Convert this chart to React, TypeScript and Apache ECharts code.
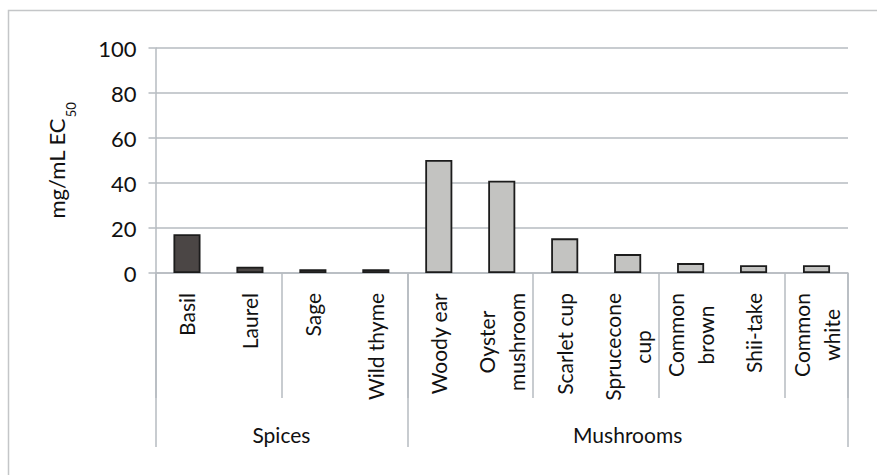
import React, { useEffect, useRef } from "react";
import * as echarts from "echarts";

const categories = [
  "Basil",
  "Laurel",
  "Sage",
  "Wild thyme",
  "Woody ear",
  "Oyster\nmushroom",
  "Scarlet cup",
  "Sprucecone\ncup",
  "Common\nbrown",
  "Shii-take",
  "Common\nwhite",
];
const values = [17.2, 2.8, 1.7, 1.7, 50.2, 41.0, 15.4, 8.4, 4.4, 3.5, 3.5];
const groups = ["Spices", "Mushrooms"];
const groupSizes = [4, 7];
const groupColors = ["#4b4645", "#c3c3c1"];
const yTicks = [0, 20, 40, 60, 80, 100];

const FONT = "Lato";
const GRAY = "#b6bbc0";
const CAT_SIZE = 21;
const LINE_GAP = 30;
const LABEL_MARGIN = 20;

export default function App() {
  const ref = useRef<HTMLDivElement>(null);
  useEffect(() => {
    if (!ref.current) return;
    const chart = echarts.init(ref.current, undefined, { renderer: "svg" });

    const canvas = document.createElement("canvas");
    const ctx = canvas.getContext("2d");
    const measure = (t: string) => {
      if (!ctx) return t.length * CAT_SIZE * 0.5;
      ctx.font = `${CAT_SIZE}px ${FONT}`;
      return ctx.measureText(t).width;
    };

    // group boundaries and centers
    const bounds: number[] = [0];
    groupSizes.forEach((s) => bounds.push(bounds[bounds.length - 1] + s));
    const centers = groupSizes.map((s, i) => bounds[i] + s / 2);
    const groupOf = (idx: number) => {
      for (let g = 0; g < groupSizes.length; g++) {
        if (idx < bounds[g + 1]) return g;
      }
      return groupSizes.length - 1;
    };

    const border = {
      type: "rect",
      shape: { x: 8.5, y: 10.5, width: 1000, height: 1000 },
      style: { fill: "none", stroke: "#c4c6c8", lineWidth: 1.5 },
      silent: true,
      z: -1,
    };

    chart.setOption({
      animation: false,
      backgroundColor: "#ffffff",
      graphic: [border],
      grid: {
        left: 155.5,
        right: 29,
        top: 48,
        bottom: 202,
        containLabel: false,
        outerBoundsMode: "none",
      },
      xAxis: [
        {
          type: "category",
          data: categories,
          boundaryGap: true,
          axisLine: { show: true, lineStyle: { color: GRAY, width: 1.5 } },
          axisTick: {
            show: true,
            length: 125,
            lineStyle: { color: GRAY, width: 1.5 },
          },
          axisLabel: { show: false },
        },
        {
          type: "value",
          position: "bottom",
          min: 0,
          max: categories.length,
          axisLine: { show: false },
          splitLine: { show: false },
          axisTick: {
            show: true,
            customValues: bounds,
            length: 174,
            lineStyle: { color: GRAY, width: 1.5 },
          },
          axisLabel: {
            show: true,
            customValues: centers,
            margin: 151,
            fontSize: 21,
            fontFamily: FONT,
            color: "#111",
            formatter: (v: number) => {
              const i = centers.findIndex((c) => Math.abs(c - v) < 1e-6);
              return i >= 0 ? groups[i] : "";
            },
          },
        },
      ],
      yAxis: {
        type: "value",
        min: yTicks[0],
        max: yTicks[yTicks.length - 1],
        interval: yTicks[1] - yTicks[0],
        name: "{a|mg/mL EC}{s|50}",
        nameLocation: "middle",
        nameGap: 88,
        nameRotate: 90,
        nameTextStyle: {
          rich: {
            a: { fontSize: 22, fontFamily: FONT, color: "#111", verticalAlign: "middle", lineHeight: 22 },
            s: {
              fontSize: 13,
              fontFamily: FONT,
              color: "#111",
              verticalAlign: "top",
              lineHeight: 13,
              padding: [19, 0, 0, 1],
            },
          },
        },
        axisLine: { show: true, lineStyle: { color: GRAY, width: 1.5 } },
        axisTick: { show: true, length: 7, lineStyle: { color: GRAY, width: 1.5 } },
        splitLine: { show: true, lineStyle: { color: GRAY, width: 1.5 } },
        axisLabel: {
          margin: 19,
          fontSize: 22,
          fontFamily: FONT,
          color: "#111",
        },
      },
      series: [
        {
          type: "bar",
          xAxisIndex: 0,
          barWidth: "43%",
          data: values.map((v, i) => ({
            value: v,
            itemStyle: {
              color: groupColors[groupOf(i)],
              borderColor: "#1c1c1c",
              borderWidth: 1.8,
            },
          })),
        },
      ],
    });

    // category labels: rotated, block top-aligned below the axis, lines centred
    const axisY = chart.convertToPixel({ yAxisIndex: 0 }, 0) as number;
    const labels: any[] = [];
    categories.forEach((c, i) => {
      const px = chart.convertToPixel({ xAxisIndex: 0 }, i) as number;
      const lines = c.split("\n");
      const W = Math.max(...lines.map(measure));
      const cy = axisY + LABEL_MARGIN + W / 2;
      lines.forEach((line, j) => {
        labels.push({
          type: "text",
          x: px + (j - (lines.length - 1) / 2) * LINE_GAP,
          y: cy,
          rotation: Math.PI / 2,
          silent: true,
          style: {
            text: line,
            fontSize: CAT_SIZE,
            fontFamily: FONT,
            fill: "#111",
            align: "center",
            verticalAlign: "middle",
            textAlign: "center",
            textVerticalAlign: "middle",
          },
        });
      });
    });
    chart.setOption({ graphic: [border, ...labels] });

    return () => chart.dispose();
  }, []);
  return (
    <div
      ref={ref}
      style={{ position: "fixed", left: 0, top: 0, width: 877, height: 475 }}
    />
  );
}
